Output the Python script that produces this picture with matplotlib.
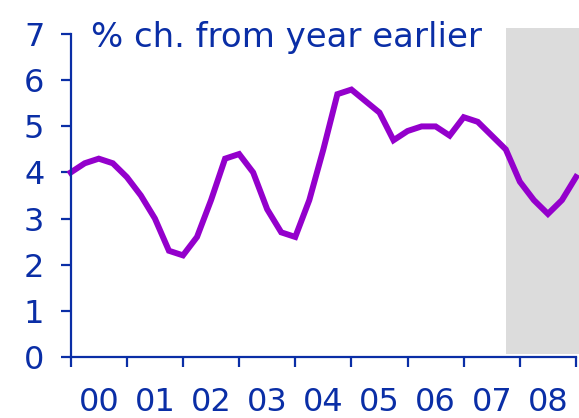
import numpy as np
import matplotlib
matplotlib.use('Agg')
import matplotlib.pyplot as plt

# quarterly % change from a year earlier, 2000Q1 .. 2009Q1
values = [4.0, 4.2, 4.3, 4.2, 3.9, 3.5, 3.0, 2.3, 2.2, 2.6, 3.4, 4.3,
          4.4, 4.0, 3.2, 2.7, 2.6, 3.4, 4.5, 5.7, 5.8, 5.55, 5.3, 4.7,
          4.9, 5.0, 5.0, 4.8, 5.2, 5.1, 4.8, 4.5, 3.8, 3.4, 3.1, 3.4, 3.9]
x = 2000 + np.arange(len(values)) / 4.0
year_labels = ['00', '01', '02', '03', '04', '05', '06', '07', '08']
forecast_start = 2007.76

blue = '#0A2EA6'
purple = '#9400CC'

plt.rcParams['font.family'] = ['DejaVu Sans']

fig = plt.figure(figsize=(5.79, 4.18), dpi=100)
ax = fig.add_axes([0.1221, 0.1467, 0.8727, 0.7712])

# shaded forecast area
ax.fill_between([forecast_start, 2009.06], 0.05, 7.13, color='#DCDCDC',
                linewidth=0, zorder=0, clip_on=False)

ax.plot(x, values, color=purple, linewidth=4.3, solid_joinstyle='miter',
        zorder=3, clip_on=False)

ax.set_xlim(2000, 2009)
ax.set_ylim(0, 7)

for s in ['top', 'right']:
    ax.spines[s].set_visible(False)
for s in ['left', 'bottom']:
    ax.spines[s].set_color(blue)
    ax.spines[s].set_linewidth(1.6)
    ax.spines[s].set_zorder(4)

ax.set_xticks(np.arange(2000, 2010))
ax.set_xticklabels([])
ax.set_xticks(np.arange(2000, 2009) + 0.5, minor=True)
ax.set_xticklabels(year_labels, minor=True)
ax.tick_params(axis='x', which='major', direction='out', length=7,
               width=1.6, color=blue)
ax.tick_params(axis='x', which='minor', length=0, pad=21.5,
               labelsize=23, labelcolor=blue)

ax.set_yticks(range(8))
ax.tick_params(axis='y', direction='out', length=7, width=1.6, color=blue,
               labelsize=23, labelcolor=blue, pad=12)

ax.text(0.04, 0.99, '% ch. from year earlier', transform=ax.transAxes,
        fontsize=24.5, color=blue, ha='left', va='center')

fig.savefig('out.png', dpi=100)
